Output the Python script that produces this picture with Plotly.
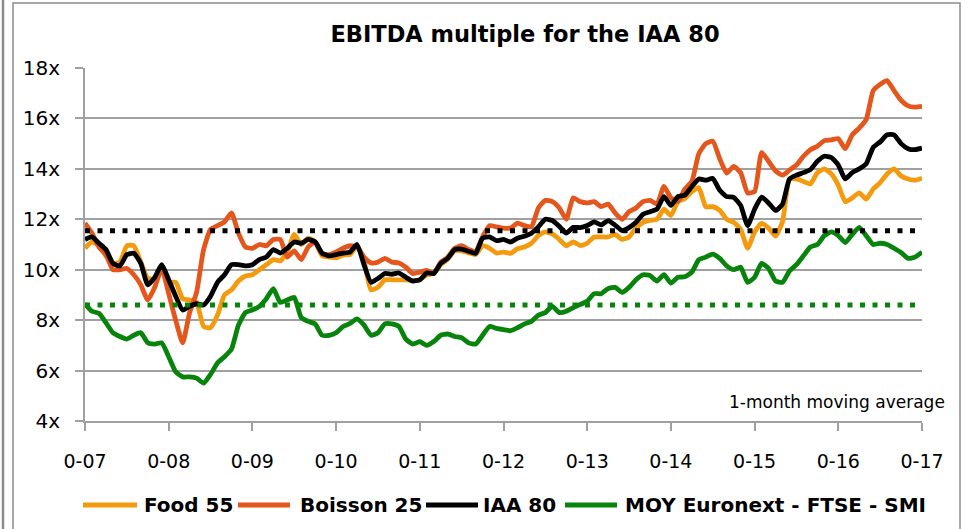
import plotly.graph_objects as go

# ---- data (monthly, Jan-2007 .. Jan-2017) ----
start_year = 2007
food_55 = [10.85, 11.1, 10.95, 10.55, 10.25, 10.3, 10.95, 10.95, 10.3, 9.65, 9.65, 10.1, 9.5, 9.5, 8.85, 8.8, 8.7, 7.75, 7.7, 8.2, 9.0, 9.2, 9.55, 9.75, 9.8, 10.0, 10.2, 10.4, 10.35, 10.7,
           11.4, 11.0, 11.25, 11.1, 10.55, 10.5, 10.47, 10.58, 10.6, 10.95, 10.35, 9.2, 9.3, 9.6, 9.6, 9.6, 9.6, 9.57, 9.6, 9.8, 9.85, 10.2, 10.42, 10.75, 10.75, 10.67, 10.6, 10.95, 10.85, 10.66,
           10.7, 10.65, 10.83, 10.9, 11.05, 11.35, 11.5, 11.42, 11.2, 10.95, 11.1, 10.96, 11.05, 11.3, 11.3, 11.3, 11.4, 11.2, 11.3, 11.65, 11.88, 11.96, 12.0, 12.4, 12.15, 12.7, 12.82, 13.1, 13.25, 12.5,
           12.5, 12.35, 12.0, 11.88, 11.6, 10.85, 11.5, 11.84, 11.65, 11.33, 11.9, 13.58, 13.6, 13.5, 13.4, 13.85, 14.0, 13.8, 13.35, 12.7, 12.85, 13.05, 12.8, 13.2, 13.45, 13.8, 14.0, 13.72, 13.6, 13.55, 13.63]
boisson_25 = [11.85, 11.45, 10.9, 10.6, 10.0, 10.0, 10.05, 9.8, 9.4, 8.8, 9.3, 10.05, 9.05, 8.0, 7.1, 8.3, 9.1, 10.8, 11.6, 11.75, 11.9, 12.25, 11.45, 10.9, 10.85, 11.0, 10.95, 11.2, 11.2, 10.5,
              10.75, 10.4, 10.9, 11.1, 10.62, 10.6, 10.7, 10.85, 10.95, 10.9, 10.5, 10.27, 10.3, 10.45, 10.3, 10.27, 10.1, 9.85, 9.9, 9.97, 9.85, 10.3, 10.5, 10.85, 10.95, 10.8, 10.73, 11.3, 11.75, 11.7,
              11.65, 11.65, 11.85, 11.75, 11.7, 12.45, 12.75, 12.7, 12.45, 12.0, 12.85, 12.7, 12.65, 12.7, 12.5, 12.6, 12.25, 12.0, 12.3, 12.45, 12.7, 12.75, 12.6, 13.3, 12.85, 12.7, 13.2, 13.5, 14.6, 15.0,
              15.1, 14.4, 13.83, 14.1, 13.85, 13.05, 13.1, 14.65, 14.3, 13.92, 13.75, 13.95, 14.15, 14.5, 14.76, 14.9, 15.12, 15.15, 15.2, 14.8, 15.35, 15.62, 15.95, 17.1, 17.35, 17.5, 17.1, 16.72, 16.5, 16.45, 16.48]
iaa_80 = [11.2, 11.3, 11.05, 10.8, 10.25, 10.15, 10.6, 10.65, 10.25, 9.4, 9.7, 10.2, 9.6, 8.95, 8.4, 8.55, 8.65, 8.6, 8.95, 9.5, 9.8, 10.2, 10.2, 10.15, 10.2, 10.4, 10.5, 10.8, 10.66, 10.85,
          11.1, 11.05, 11.2, 11.1, 10.66, 10.55, 10.6, 10.66, 10.7, 11.0, 10.2, 9.5, 9.65, 9.85, 9.82, 9.87, 9.7, 9.55, 9.6, 9.87, 9.85, 10.25, 10.45, 10.8, 10.82, 10.73, 10.65, 11.25, 11.3, 11.15,
          11.2, 11.1, 11.25, 11.33, 11.45, 11.7, 12.0, 11.95, 11.72, 11.45, 11.68, 11.67, 11.75, 11.9, 11.78, 11.95, 11.77, 11.55, 11.67, 11.88, 12.2, 12.3, 12.4, 12.9, 12.55, 12.9, 12.96, 13.3, 13.6, 13.55,
          13.62, 13.15, 12.9, 12.87, 12.55, 11.75, 12.4, 12.88, 12.65, 12.35, 12.6, 13.6, 13.75, 13.85, 13.97, 14.3, 14.5, 14.45, 14.15, 13.6, 13.85, 14.0, 14.2, 14.85, 15.07, 15.35, 15.35, 15.0, 14.8, 14.76, 14.82]
moy_euronext = [8.65, 8.35, 8.27, 7.9, 7.5, 7.35, 7.25, 7.4, 7.5, 7.1, 7.05, 7.1, 6.55, 5.95, 5.75, 5.75, 5.7, 5.5, 5.85, 6.3, 6.55, 6.85, 7.8, 8.3, 8.4, 8.55, 8.85, 9.25, 8.7, 8.8,
                8.9, 8.1, 7.95, 7.85, 7.4, 7.4, 7.5, 7.75, 7.87, 8.05, 7.8, 7.4, 7.5, 7.85, 7.85, 7.75, 7.25, 7.05, 7.15, 7.0, 7.15, 7.4, 7.45, 7.35, 7.3, 7.1, 7.05, 7.4, 7.75, 7.67,
                7.62, 7.58, 7.7, 7.85, 7.95, 8.2, 8.3, 8.55, 8.3, 8.35, 8.5, 8.62, 8.75, 9.05, 9.05, 9.25, 9.3, 9.1, 9.3, 9.6, 9.8, 9.77, 9.55, 9.8, 9.47, 9.7, 9.72, 9.9, 10.4, 10.5,
                10.62, 10.45, 10.15, 10.0, 10.1, 9.5, 9.7, 10.25, 10.05, 9.55, 9.5, 9.95, 10.2, 10.55, 10.9, 11.0, 11.35, 11.5, 11.35, 11.08, 11.4, 11.68, 11.35, 11.0, 11.05, 11.0, 10.85, 10.68, 10.45, 10.5, 10.7]
iaa_average = 11.55
moy_average = 8.6

tick_years = list(range(2007, 2018))
tick_labels = ["0-%02d" % (y % 100) for y in tick_years]
y_ticks = [4, 6, 8, 10, 12, 14, 16, 18]
y_tick_labels = ["%dx" % v for v in y_ticks]

series_names = ["Food 55", "Boisson 25", "IAA 80", "MOY Euronext - FTSE - SMI"]
series_values = [food_55, boisson_25, iaa_80, moy_euronext]
colors = ["#F39A0E", "#E4561B", "#000000", "#08840C"]

x_dates = [start_year + i / 12 for i in range(len(food_55))]

FONT = "DejaVu Sans"
W, H = 968, 529
L, R, T, B = 85, 46, 68, 108
PW, PH = W - L - R, H - T - B


def px(xp):
    return (xp - L) / PW


def py(yp):
    return (H - B - yp) / PH


fig = go.Figure()
for name, vals, col in zip(series_names, series_values, colors):
    fig.add_trace(go.Scatter(x=x_dates, y=vals, mode="lines", name=name,
                             line=dict(color=col, width=4.8, shape="spline", smoothing=0.5),
                             showlegend=False))

for avg, col in [(iaa_average, "#000000"), (moy_average, "#08840C")]:
    fig.add_trace(go.Scatter(x=[tick_years[0], tick_years[-1]], y=[avg, avg], mode="lines",
                             line=dict(color=col, width=5, dash="5px,7.5px"), showlegend=False,
                             hoverinfo="skip"))

# manual legend
legend_layout = [(83, 137, 142), (238, 290, 298), (426, 478, 481), (565, 617, 623)]
ly = 505
shapes = []
annotations = []
for (x0, x1, xt), name, col in zip(legend_layout, series_names, colors):
    shapes.append(dict(type="line", xref="paper", yref="paper", x0=px(x0), x1=px(x1),
                       y0=py(ly), y1=py(ly), line=dict(color=col, width=5)))
    annotations.append(dict(x=px(xt), y=py(ly), xref="paper", yref="paper", text="<b>%s</b>" % name,
                            showarrow=False, xanchor="left", yanchor="middle",
                            font=dict(family=FONT, size=20, color="#000000")))

annotations.append(dict(x=px(947), y=py(402), xref="paper", yref="paper",
                        text="1-month moving average", showarrow=False,
                        xanchor="right", yanchor="middle",
                        font=dict(family=FONT, size=17, color="#000000")))

# chart frame
shapes.append(dict(type="rect", xref="paper", yref="paper", x0=px(13), x1=px(960),
                   y0=py(540), y1=py(3), line=dict(color="#8c8c8c", width=1.5),
                   layer="below"))
shapes.append(dict(type="line", xref="paper", yref="paper", x0=px(3), x1=px(3),
                   y0=py(540), y1=py(0), line=dict(color="#8c8c8c", width=2.5)))

fig.update_layout(
    width=W, height=H,
    margin=dict(l=L, r=R, t=T, b=B),
    paper_bgcolor="white", plot_bgcolor="white",
    title=dict(text="<b>EBITDA multiple for the IAA 80</b>", x=px(525), xanchor="center",
               xref="paper", y=1 - 34 / H, yanchor="middle",
               font=dict(family=FONT, size=22.5, color="#000000")),
    showlegend=False,
    shapes=shapes,
    annotations=annotations,
    xaxis=dict(range=[tick_years[0], tick_years[-1]], tickvals=tick_years, ticktext=tick_labels,
               showgrid=False, zeroline=False, showline=True, linecolor="#a0a0a0", linewidth=2,
               ticks="outside", ticklen=8, tickwidth=2, tickcolor="#a0a0a0",
               ticklabelstandoff=14,
               tickfont=dict(family=FONT, size=19, color="#000000")),
    yaxis=dict(range=[4, 18], tickvals=y_ticks, ticktext=y_tick_labels,
               showgrid=True, gridcolor="#a0a0a0", gridwidth=2, zeroline=False,
               showline=True, linecolor="#a0a0a0", linewidth=2,
               ticks="outside", ticklen=8, tickwidth=2, tickcolor="#a0a0a0",
               ticklabelstandoff=11,
               tickfont=dict(family=FONT, size=20, color="#000000")),
)

fig.write_html("out.html", config={"displayModeBar": False},
               post_script="document.body.style.margin='0';document.body.style.overflow='hidden';")
